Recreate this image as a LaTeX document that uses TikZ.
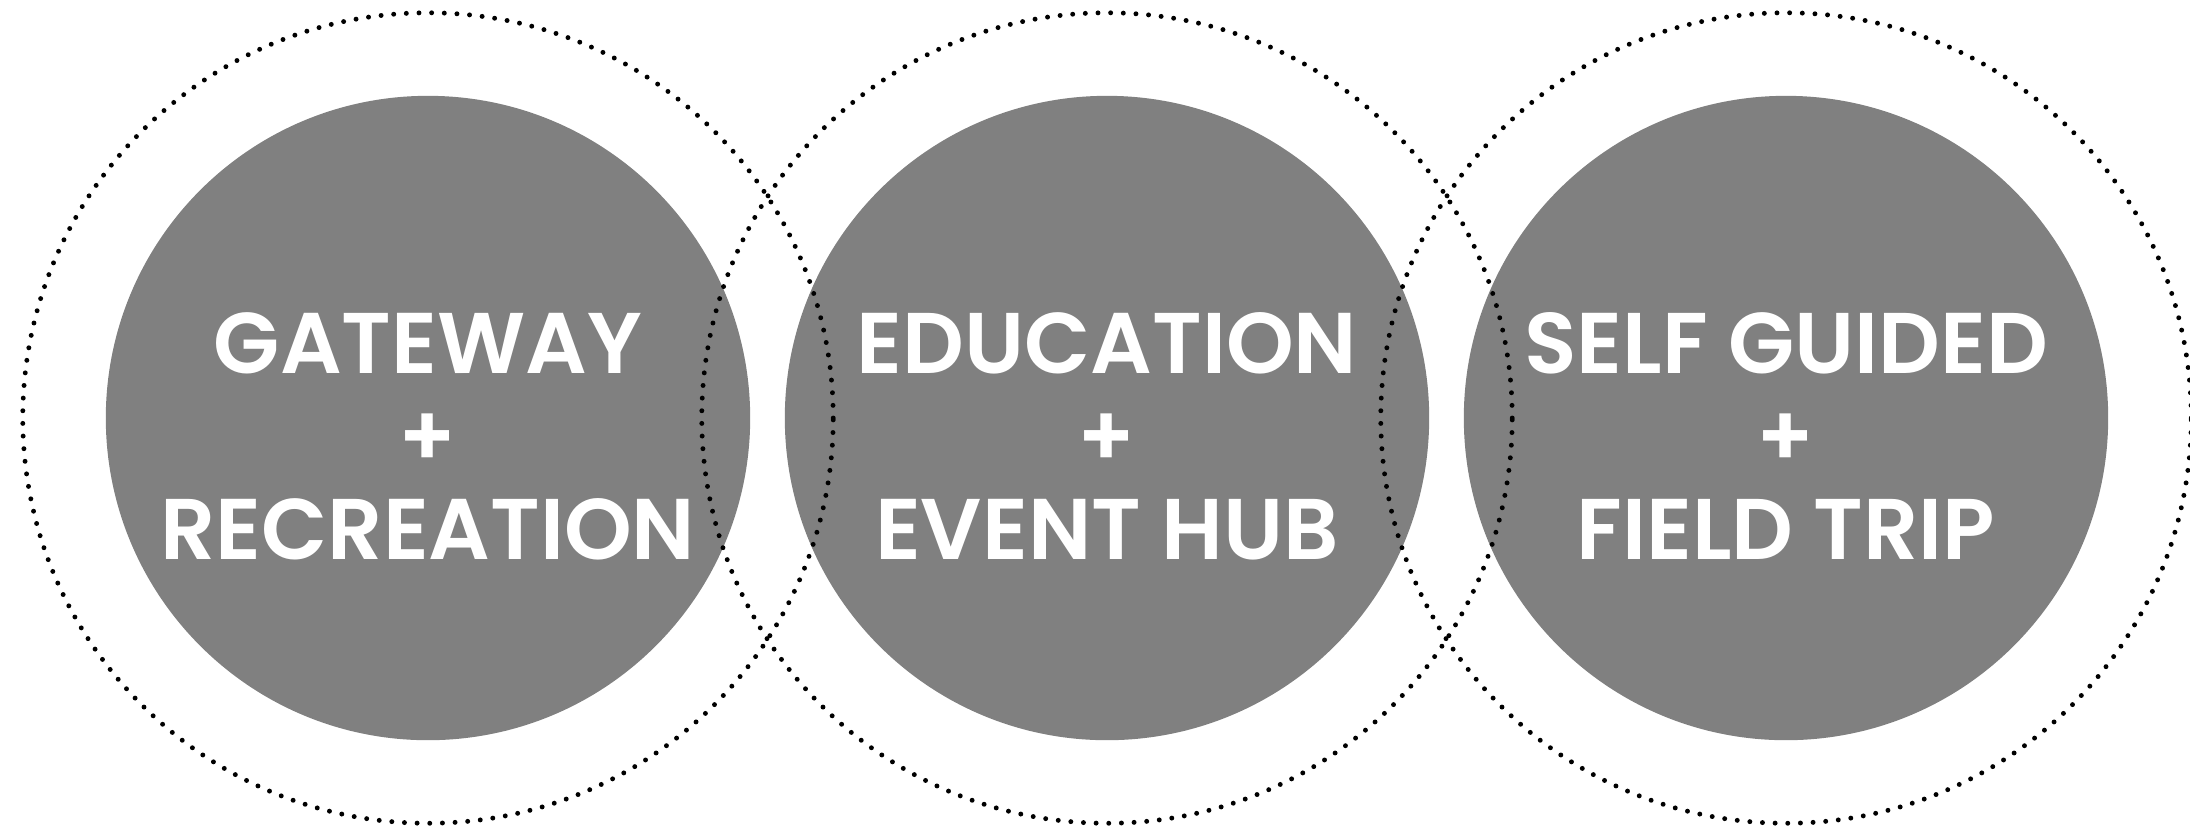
\documentclass[tikz,border=0pt]{standalone}
\usepackage{fontspec}
\setmainfont{Poppins}[BoldFont={Poppins SemiBold}]
\usepackage{tikz}
\definecolor{discgray}{HTML}{808080}

\tikzset{
  disc/.style={circle, fill=discgray, minimum size=6.44cm, inner sep=0pt},
  disctext/.style={text=white, align=center, inner sep=0pt,
    font=\fontsize{24.5}{26.4}\selectfont\bfseries},
  dotring/.style={line width=1.4pt, line cap=round, dash pattern=on 0pt off 3.6pt}
}

\begin{document}
\begin{tikzpicture}[x=0.01cm, y=0.01cm]
\useasboundingbox (0, 0) rectangle (2190, -832);
% grey discs
\node[disc] (gateway) at (428, -418) {};
\node[disc] (education) at (1107, -418) {};
\node[disc] (selfguided) at (1786, -418) {};
% dotted rings
\draw[dotring] (gateway.center) circle [radius=4.05cm];
\draw[dotring] (education.center) circle [radius=4.05cm];
\draw[dotring] (selfguided.center) circle [radius=4.05cm];
% labels
\node[disctext] (gatewaylabel) at ([yshift=-0.18cm]gateway.center) {GATEWAY\\+\\RECREATION};
\node[disctext] (educationlabel) at ([yshift=-0.18cm]education.center) {EDUCATION\\+\\EVENT HUB};
\node[disctext] (selfguidedlabel) at ([yshift=-0.18cm]selfguided.center) {SELF GUIDED\\+\\FIELD TRIP};
\end{tikzpicture}
\end{document}
